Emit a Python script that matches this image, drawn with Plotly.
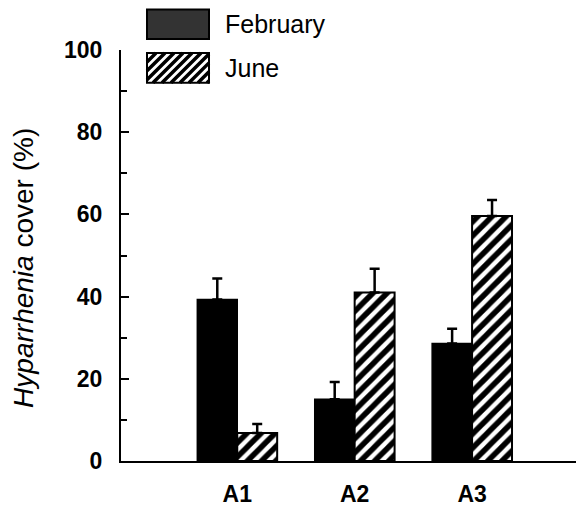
import plotly.graph_objects as go

# ---- data ----
sites = ["A1", "A2", "A3"]
feb_values = [39.3, 15.0, 28.6]
feb_errors = [5.1, 4.2, 3.6]
jun_values = [6.8, 41.0, 59.6]
jun_errors = [2.2, 5.8, 3.9]
series_names = ["February", "June"]
y_ticks = [0, 20, 40, 60, 80, 100]

W, H = 576, 507
ML, MR, MT, MB = 121, 0, 50, 42
PW, PH = W - ML - MR, H - MT - MB

def px(x):
    return (x - ML) / PW

def py(y):
    return (H - MB - y) / PH

FONT = "Liberation Sans"

fig = go.Figure()
fig.add_trace(go.Bar(
    x=sites, y=feb_values, name=series_names[0],
    marker=dict(color="black", line=dict(color="black", width=1.5)),
    error_y=dict(type="data", symmetric=False, array=feb_errors,
                 arrayminus=[0] * len(feb_errors), color="black",
                 thickness=2.5, width=5),
    showlegend=False,
))
fig.add_trace(go.Bar(
    x=sites, y=jun_values, name=series_names[1],
    marker=dict(color="white", line=dict(color="black", width=2),
                pattern=dict(shape="/", fgcolor="black", bgcolor="white",
                             fgopacity=1, size=10, solidity=0.55)),
    error_y=dict(type="data", symmetric=False, array=jun_errors,
                 arrayminus=[0] * len(jun_errors), color="black",
                 thickness=2.5, width=5),
    showlegend=False,
))

# ---- hand-drawn legend (large keys as in the original) ----
shapes = []
feb_box = (147, 9, 209, 39)
jun_box = (147, 53, 209, 83)
shapes.append(dict(type="rect", xref="paper", yref="paper",
                   x0=px(feb_box[0]), x1=px(feb_box[2]),
                   y0=py(feb_box[3]), y1=py(feb_box[1]),
                   fillcolor="#333333", line=dict(color="black", width=2)))
shapes.append(dict(type="rect", xref="paper", yref="paper",
                   x0=px(jun_box[0]), x1=px(jun_box[2]),
                   y0=py(jun_box[3]), y1=py(jun_box[1]),
                   fillcolor="white", line=dict(color="black", width=2)))
# hatch lines inside June key
x0b, y0b, x1b, y1b = jun_box
hh = y1b - y0b
path = ""
step = 9
s = x0b - hh
while s < x1b:
    ax, ay = s, y1b
    bx, by = s + hh, y0b
    if ax < x0b:
        ay = y1b - (x0b - ax)
        ax = x0b
    if bx > x1b:
        by = y0b + (bx - x1b)
        bx = x1b
    if bx > ax:
        path += f"M{px(ax)},{py(ay)} L{px(bx)},{py(by)} "
    s += step
shapes.append(dict(type="path", xref="paper", yref="paper", path=path,
                   line=dict(color="black", width=3.5)))

annotations = [
    dict(text=series_names[0], xref="paper", yref="paper",
         x=px(223), y=py(24), xanchor="left", yanchor="middle",
         showarrow=False, font=dict(family=FONT, size=25, color="black")),
    dict(text=series_names[1], xref="paper", yref="paper",
         x=px(223), y=py(68), xanchor="left", yanchor="middle",
         showarrow=False, font=dict(family=FONT, size=25, color="black")),
    dict(text="<i>Hyparrhenia</i> cover (%)", xref="paper", yref="paper",
         x=px(24), y=py(270), xanchor="center", yanchor="middle",
         textangle=-90, showarrow=False,
         font=dict(family=FONT, size=28, color="black")),
]

fig.update_layout(
    width=W, height=H,
    margin=dict(l=ML, r=MR, t=MT, b=MB, pad=0),
    paper_bgcolor="white", plot_bgcolor="white",
    barmode="group", bargap=0.32, bargroupgap=0,
    shapes=shapes, annotations=annotations,
    showlegend=False,
)
fig.update_xaxes(
    range=[-0.99, 2.885], showline=True, linecolor="black", linewidth=2,
    ticks="", showgrid=False, zeroline=False,
    tickfont=dict(family=FONT, size=23, color="black", weight="bold"),
    ticklabelstandoff=11,
)
fig.update_yaxes(
    range=[0, 100], tickvals=y_ticks, showline=True, linecolor="black",
    linewidth=2, ticks="inside", ticklen=8, tickwidth=2, tickcolor="black",
    minor=dict(dtick=10, ticks="inside", ticklen=6, tickwidth=1.5,
               tickcolor="black"),
    showgrid=False, zeroline=False,
    tickfont=dict(family=FONT, size=23, color="black", weight="bold"),
    ticklabelstandoff=12,
)

fig.write_html("out.html")
